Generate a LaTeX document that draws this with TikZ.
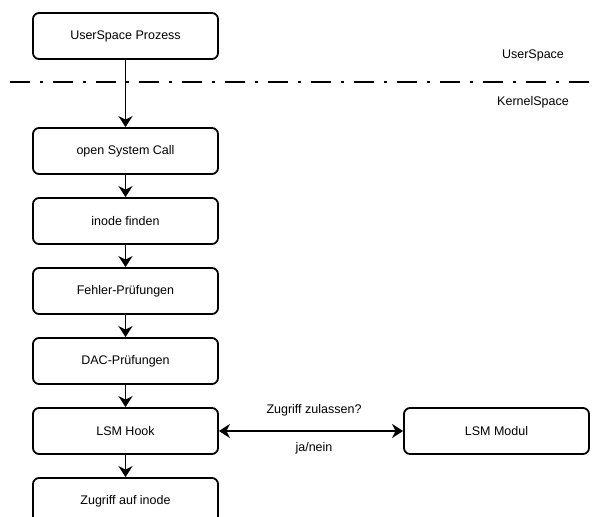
\documentclass[tikz,border=0pt]{standalone}
\usepackage{fontspec}
\setmainfont{Liberation Sans}
\usetikzlibrary{arrows.meta}
\begin{document}
\begin{tikzpicture}[x=1pt,y=-1pt,
  stepbox/.style={draw, line width=1.8pt, rounded corners=6pt,
    minimum width=185pt, minimum height=46pt, inner sep=0pt,
    font=\fontsize{12.5pt}{14pt}\selectfont},
  flow/.style={line width=1.8pt, -{Stealth[length=11pt,width=14pt,inset=3.5pt]}},
  both/.style={line width=1.8pt, {Stealth[length=11pt,width=14pt,inset=3.5pt]}-{Stealth[length=11pt,width=14pt,inset=3.5pt]}},
  lbl/.style={font=\fontsize{12.5pt}{14pt}\selectfont, inner sep=0pt}]
\clip (0,0) rectangle (598,517);
% user space process
\node[stepbox] (usr) at (125.5,36) {UserSpace Prozess};
% boundary between user and kernel space
\coordinate (sepL) at (10,82);
\coordinate (sepR) at (598,82);
\draw[line width=1.8pt, dash pattern=on 20pt off 10pt on 3pt off 10pt] (sepL) -- (sepR);
\node[lbl] (uslbl) at (533,55) {UserSpace};
\node[lbl] (kslbl) at (533,102) {KernelSpace};
% kernel path of the open call
\node[stepbox] (open) at (125.5,151) {open System Call};
\node[stepbox] (inode) at (125.5,221) {inode finden};
\node[stepbox] (err) at (125.5,291) {Fehler-Prüfungen};
\node[stepbox] (dac) at (125.5,361) {DAC-Prüfungen};
\node[stepbox] (hook) at (125.5,431) {LSM Hook};
\node[stepbox] (acc) at (125.5,501) {Zugriff auf inode};
\node[stepbox] (mod) at (496.5,431) {LSM Modul};
\draw[flow] (usr) -- (open);
\draw[flow] (open) -- (inode);
\draw[flow] (inode) -- (err);
\draw[flow] (err) -- (dac);
\draw[flow] (dac) -- (hook);
\draw[flow] (hook) -- (acc);
\draw[both] (hook) -- (mod);
\node[lbl] (ask) at (314,410) {Zugriff zulassen?};
\node[lbl] (ans) at (314,448) {ja/nein};
\end{tikzpicture}
\end{document}
